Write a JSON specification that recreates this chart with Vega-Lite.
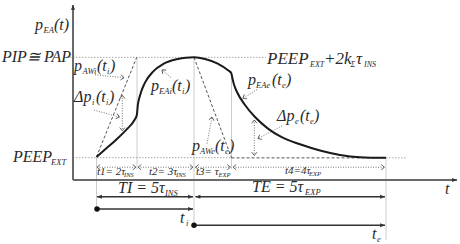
{
  "$schema": "https://vega.github.io/schema/vega-lite/v6.json",
  "width": 460,
  "height": 244,
  "padding": 0,
  "autosize": {"type": "fit", "contains": "padding"},
  "config": {"view": {"stroke": null}},
  "datasets": {
    "curve": [
      {"x": 96.5, "y": 159.5}, {"x": 106.7, "y": 150.5}, {"x": 116.7, "y": 141.5}, {"x": 126.7, "y": 131.5},
      {"x": 134.5, "y": 122}, {"x": 136.8, "y": 117}, {"x": 137.8, "y": 107}, {"x": 140, "y": 97},
      {"x": 145, "y": 84}, {"x": 153.3, "y": 72.5}, {"x": 163.3, "y": 65}, {"x": 176.7, "y": 60.2},
      {"x": 186, "y": 58.6}, {"x": 194, "y": 58.3}, {"x": 205, "y": 60}, {"x": 218.3, "y": 65},
      {"x": 228, "y": 71.3}, {"x": 231.3, "y": 74.5}, {"x": 232.5, "y": 80}, {"x": 234, "y": 86},
      {"x": 237, "y": 93.5}, {"x": 245, "y": 106.7}, {"x": 255, "y": 119}, {"x": 268.3, "y": 131},
      {"x": 281.7, "y": 139.5}, {"x": 300, "y": 146.7}, {"x": 320, "y": 153}, {"x": 340, "y": 157.5},
      {"x": 360, "y": 159.8}, {"x": 386, "y": 160.5}
    ],
    "hguides": [
      {"x": 70, "y": 58.3, "x2": 266, "y2": 58.3},
      {"x": 73, "y": 160.3, "x2": 231, "y2": 160.3},
      {"x": 386, "y": 160.5, "x2": 406, "y2": 160.5}
    ],
    "vguides": [
      {"x": 137, "y": 58, "x2": 137, "y2": 172},
      {"x": 194, "y": 58, "x2": 194, "y2": 229},
      {"x": 231.5, "y": 72, "x2": 231.5, "y2": 172},
      {"x": 96.5, "y": 160, "x2": 96.5, "y2": 212},
      {"x": 386, "y": 160, "x2": 386, "y2": 244}
    ],
    "paw": [
      {"x": 96.5, "y": 159.5, "x2": 136.7, "y2": 58.3},
      {"x": 194, "y": 58.3, "x2": 231.5, "y2": 160.3},
      {"x": 231.5, "y": 160.5, "x2": 386, "y2": 160.5}
    ],
    "thin": [
      {"x": 95, "y": 76, "x2": 124, "y2": 79, "kind": "note"},
      {"x": 94, "y": 112, "x2": 119.5, "y2": 119, "kind": "note"},
      {"x": 171, "y": 79, "x2": 162, "y2": 71, "kind": "note"},
      {"x": 207, "y": 146, "x2": 212, "y2": 119, "kind": "note"},
      {"x": 257, "y": 91, "x2": 243, "y2": 100, "kind": "note"},
      {"x": 282, "y": 128, "x2": 258, "y2": 141, "kind": "note"},
      {"x": 122.3, "y": 97, "x2": 122.3, "y2": 133, "kind": "dim"},
      {"x": 254.3, "y": 122, "x2": 254.3, "y2": 158, "kind": "dim"},
      {"x": 97, "y": 170, "x2": 136, "y2": 170, "kind": "dim"},
      {"x": 138, "y": 170, "x2": 193, "y2": 170, "kind": "dim"},
      {"x": 195.5, "y": 170, "x2": 230.5, "y2": 170, "kind": "dim"},
      {"x": 233, "y": 170, "x2": 384.5, "y2": 170, "kind": "dim"}
    ],
    "bold": [
      {"x": 73, "y": 183, "x2": 73, "y2": 5, "kind": "axis"},
      {"x": 73, "y": 183, "x2": 457, "y2": 183, "kind": "axis"},
      {"x": 97, "y": 200, "x2": 193, "y2": 200, "kind": "both"},
      {"x": 195.5, "y": 200, "x2": 385, "y2": 200, "kind": "both"},
      {"x": 97, "y": 212.5, "x2": 193, "y2": 212.5, "kind": "end"},
      {"x": 194, "y": 229, "x2": 385, "y2": 229, "kind": "end"}
    ],
    "dots": [{"x": 97, "y": 212.5}, {"x": 194, "y": 229}],
    "texts": [
      {"x": 35, "y": 30, "text": "p", "role": "main"},
      {"x": 43.5, "y": 33.5, "text": "EA", "role": "sub"},
      {"x": 54, "y": 30, "text": "(t)", "role": "main"},
      {"x": 2, "y": 63, "text": "PIP≅ PAP", "role": "main"},
      {"x": 74, "y": 72, "text": "p", "role": "main"},
      {"x": 82.5, "y": 75, "text": "AWi", "role": "sub"},
      {"x": 97, "y": 72, "text": "(t", "role": "main"},
      {"x": 107, "y": 75, "text": "i", "role": "sub"},
      {"x": 110, "y": 72, "text": ")", "role": "main"},
      {"x": 74, "y": 104, "text": "Δp", "role": "main"},
      {"x": 92, "y": 107, "text": "i", "role": "sub"},
      {"x": 96, "y": 104, "text": "(t", "role": "main"},
      {"x": 106, "y": 107, "text": "i", "role": "sub"},
      {"x": 109, "y": 104, "text": ")", "role": "main"},
      {"x": 151, "y": 93, "text": "p", "role": "main"},
      {"x": 159, "y": 96, "text": "EAi", "role": "sub"},
      {"x": 172, "y": 93, "text": "(t", "role": "main"},
      {"x": 182, "y": 96, "text": "i", "role": "sub"},
      {"x": 185, "y": 93, "text": ")", "role": "main"},
      {"x": 192, "y": 154, "text": "p", "role": "main"},
      {"x": 200, "y": 157, "text": "AWe", "role": "sub"},
      {"x": 215, "y": 154, "text": "(t", "role": "main"},
      {"x": 225, "y": 157, "text": "e", "role": "sub"},
      {"x": 229, "y": 154, "text": ")", "role": "main"},
      {"x": 248, "y": 86, "text": "p", "role": "main"},
      {"x": 256, "y": 89, "text": "EAe", "role": "sub"},
      {"x": 272, "y": 86, "text": "(t", "role": "main"},
      {"x": 282, "y": 89, "text": "e", "role": "sub"},
      {"x": 286, "y": 86, "text": ")", "role": "main"},
      {"x": 277, "y": 123, "text": "Δp", "role": "main"},
      {"x": 295, "y": 126, "text": "e", "role": "sub"},
      {"x": 300, "y": 123, "text": "(t", "role": "main"},
      {"x": 310, "y": 126, "text": "e", "role": "sub"},
      {"x": 314, "y": 123, "text": ")", "role": "main"},
      {"x": 267, "y": 65, "text": "PEEP", "role": "big"},
      {"x": 310, "y": 68, "text": "EXT", "role": "bigsub"},
      {"x": 324, "y": 65, "text": "+2k", "role": "big"},
      {"x": 350.5, "y": 68, "text": "Σ", "role": "bigsub"},
      {"x": 356, "y": 65, "text": "τ", "role": "big"},
      {"x": 364, "y": 68, "text": "INS", "role": "bigsub"},
      {"x": 13, "y": 165, "text": "PEEP", "role": "main"},
      {"x": 51, "y": 168, "text": "EXT", "role": "sub"},
      {"x": 118, "y": 196, "text": "TI = 5τ", "role": "main"},
      {"x": 165, "y": 199, "text": "INS", "role": "sub"},
      {"x": 252, "y": 195, "text": "TE = 5τ", "role": "main"},
      {"x": 305, "y": 198, "text": "EXP", "role": "sub"},
      {"x": 97, "y": 178, "text": "t1= 2τ", "role": "small"},
      {"x": 124, "y": 180, "text": "INS", "role": "smallsub"},
      {"x": 149, "y": 178, "text": "t2= 3τ", "role": "small"},
      {"x": 176, "y": 180, "text": "INS", "role": "smallsub"},
      {"x": 196, "y": 178, "text": "t3= τ", "role": "small"},
      {"x": 218.5, "y": 180, "text": "EXP", "role": "smallsub"},
      {"x": 285, "y": 177, "text": "t4=4τ", "role": "small"},
      {"x": 309, "y": 179, "text": "EXP", "role": "smallsub"},
      {"x": 445, "y": 197, "text": "t", "role": "main"},
      {"x": 180, "y": 227, "text": "t", "role": "main"},
      {"x": 186, "y": 230, "text": "i", "role": "sub"},
      {"x": 372, "y": 243, "text": "t", "role": "main"},
      {"x": 377, "y": 246, "text": "e", "role": "sub"}
    ]
  },
  "layer": [
    {
      "data": {"name": "vguides"},
      "mark": {"type": "rule", "color": "#cccccc", "strokeWidth": 1},
      "encoding": {
        "x": {"field": "x", "type": "quantitative", "scale": {"domain": [0, 460], "nice": false, "zero": false}, "axis": null},
        "y": {"field": "y", "type": "quantitative", "scale": {"domain": [0, 244], "nice": false, "zero": false, "reverse": true}, "axis": null},
        "x2": {"field": "x2"}, "y2": {"field": "y2"}
      }
    },
    {
      "data": {"name": "hguides"},
      "mark": {"type": "rule", "color": "#a8a8a8", "strokeWidth": 1, "strokeDash": [1.5, 1.5]},
      "encoding": {
        "x": {"field": "x", "type": "quantitative", "scale": {"domain": [0, 460], "nice": false, "zero": false}, "axis": null},
        "y": {"field": "y", "type": "quantitative", "scale": {"domain": [0, 244], "nice": false, "zero": false, "reverse": true}, "axis": null},
        "x2": {"field": "x2"}, "y2": {"field": "y2"}
      }
    },
    {
      "data": {"name": "paw"},
      "mark": {"type": "rule", "color": "#555555", "strokeWidth": 1, "strokeDash": [3, 2]},
      "encoding": {
        "x": {"field": "x", "type": "quantitative", "scale": {"domain": [0, 460], "nice": false, "zero": false}, "axis": null},
        "y": {"field": "y", "type": "quantitative", "scale": {"domain": [0, 244], "nice": false, "zero": false, "reverse": true}, "axis": null},
        "x2": {"field": "x2"}, "y2": {"field": "y2"}
      }
    },
    {
      "data": {"name": "curve"},
      "mark": {"type": "line", "interpolate": "monotone", "color": "#1a1a1a", "strokeWidth": 2},
      "encoding": {
        "x": {"field": "x", "type": "quantitative", "scale": {"domain": [0, 460], "nice": false, "zero": false}, "axis": null},
        "y": {"field": "y", "type": "quantitative", "scale": {"domain": [0, 244], "nice": false, "zero": false, "reverse": true}, "axis": null}
      }
    },
    {
      "data": {"name": "thin"},
      "mark": {"type": "rule", "color": "#666666", "strokeWidth": 0.9, "strokeDash": [1, 1.5]},
      "encoding": {
        "x": {"field": "x", "type": "quantitative", "scale": {"domain": [0, 460], "nice": false, "zero": false}, "axis": null},
        "y": {"field": "y", "type": "quantitative", "scale": {"domain": [0, 244], "nice": false, "zero": false, "reverse": true}, "axis": null},
        "x2": {"field": "x2"}, "y2": {"field": "y2"}
      }
    },
    {
      "data": {"name": "thin"},
      "transform": [{"calculate": "atan2(datum.y2 - datum.y, datum.x2 - datum.x) * 180 / PI", "as": "ang"}],
      "mark": {"type": "point", "shape": "M-1,-0.8L0,0L-1,0.8", "filled": false, "size": 42, "stroke": "#555555", "strokeWidth": 0.9, "opacity": 1},
      "encoding": {
        "x": {"field": "x2", "type": "quantitative", "scale": {"domain": [0, 460], "nice": false, "zero": false}, "axis": null},
        "y": {"field": "y2", "type": "quantitative", "scale": {"domain": [0, 244], "nice": false, "zero": false, "reverse": true}, "axis": null},
        "angle": {"field": "ang", "type": "quantitative", "scale": null}
      }
    },
    {
      "data": {"name": "thin"},
      "transform": [
        {"filter": "datum.kind === 'dim'"},
        {"calculate": "atan2(datum.y - datum.y2, datum.x - datum.x2) * 180 / PI", "as": "ang"}
      ],
      "mark": {"type": "point", "shape": "M-1,-0.8L0,0L-1,0.8", "filled": false, "size": 42, "stroke": "#555555", "strokeWidth": 0.9, "opacity": 1},
      "encoding": {
        "x": {"field": "x", "type": "quantitative", "scale": {"domain": [0, 460], "nice": false, "zero": false}, "axis": null},
        "y": {"field": "y", "type": "quantitative", "scale": {"domain": [0, 244], "nice": false, "zero": false, "reverse": true}, "axis": null},
        "angle": {"field": "ang", "type": "quantitative", "scale": null}
      }
    },
    {
      "data": {"name": "bold"},
      "transform": [{"filter": "datum.kind === 'axis'"}],
      "mark": {"type": "rule", "color": "#6a6a6a", "strokeWidth": 2},
      "encoding": {
        "x": {"field": "x", "type": "quantitative", "scale": {"domain": [0, 460], "nice": false, "zero": false}, "axis": null},
        "y": {"field": "y", "type": "quantitative", "scale": {"domain": [0, 244], "nice": false, "zero": false, "reverse": true}, "axis": null},
        "x2": {"field": "x2"}, "y2": {"field": "y2"}
      }
    },
    {
      "data": {"name": "bold"},
      "transform": [{"filter": "datum.kind !== 'axis'"}],
      "mark": {"type": "rule", "color": "#333333", "strokeWidth": 1.5},
      "encoding": {
        "x": {"field": "x", "type": "quantitative", "scale": {"domain": [0, 460], "nice": false, "zero": false}, "axis": null},
        "y": {"field": "y", "type": "quantitative", "scale": {"domain": [0, 244], "nice": false, "zero": false, "reverse": true}, "axis": null},
        "x2": {"field": "x2"}, "y2": {"field": "y2"}
      }
    },
    {
      "data": {"name": "bold"},
      "transform": [{"calculate": "atan2(datum.y2 - datum.y, datum.x2 - datum.x) * 180 / PI", "as": "ang"}],
      "mark": {"type": "point", "shape": "M0,0L-1.3,-0.55L-1.3,0.55Z", "filled": true, "size": 56, "color": "#333333", "opacity": 1},
      "encoding": {
        "x": {"field": "x2", "type": "quantitative", "scale": {"domain": [0, 460], "nice": false, "zero": false}, "axis": null},
        "y": {"field": "y2", "type": "quantitative", "scale": {"domain": [0, 244], "nice": false, "zero": false, "reverse": true}, "axis": null},
        "angle": {"field": "ang", "type": "quantitative", "scale": null}
      }
    },
    {
      "data": {"name": "bold"},
      "transform": [
        {"filter": "datum.kind === 'both'"},
        {"calculate": "atan2(datum.y - datum.y2, datum.x - datum.x2) * 180 / PI", "as": "ang"}
      ],
      "mark": {"type": "point", "shape": "M0,0L-1.3,-0.55L-1.3,0.55Z", "filled": true, "size": 56, "color": "#333333", "opacity": 1},
      "encoding": {
        "x": {"field": "x", "type": "quantitative", "scale": {"domain": [0, 460], "nice": false, "zero": false}, "axis": null},
        "y": {"field": "y", "type": "quantitative", "scale": {"domain": [0, 244], "nice": false, "zero": false, "reverse": true}, "axis": null},
        "angle": {"field": "ang", "type": "quantitative", "scale": null}
      }
    },
    {
      "data": {"name": "dots"},
      "mark": {"type": "point", "shape": "circle", "filled": true, "size": 30, "color": "#111111", "opacity": 1},
      "encoding": {
        "x": {"field": "x", "type": "quantitative", "scale": {"domain": [0, 460], "nice": false, "zero": false}, "axis": null},
        "y": {"field": "y", "type": "quantitative", "scale": {"domain": [0, 244], "nice": false, "zero": false, "reverse": true}, "axis": null}
      }
    },
    {
      "data": {"name": "texts"},
      "transform": [{"filter": "datum.role === 'main'"}],
      "mark": {"type": "text", "align": "left", "baseline": "alphabetic", "font": "Liberation Serif, DejaVu Serif, serif", "fontStyle": "italic", "fontSize": 16, "color": "#2a2a2a"},
      "encoding": {
        "x": {"field": "x", "type": "quantitative", "scale": {"domain": [0, 460], "nice": false, "zero": false}, "axis": null},
        "y": {"field": "y", "type": "quantitative", "scale": {"domain": [0, 244], "nice": false, "zero": false, "reverse": true}, "axis": null},
        "text": {"field": "text"}
      }
    },
    {
      "data": {"name": "texts"},
      "transform": [{"filter": "datum.role === 'sub'"}],
      "mark": {"type": "text", "align": "left", "baseline": "alphabetic", "font": "Liberation Serif, DejaVu Serif, serif", "fontStyle": "italic", "fontSize": 8.5, "color": "#2a2a2a"},
      "encoding": {
        "x": {"field": "x", "type": "quantitative", "scale": {"domain": [0, 460], "nice": false, "zero": false}, "axis": null},
        "y": {"field": "y", "type": "quantitative", "scale": {"domain": [0, 244], "nice": false, "zero": false, "reverse": true}, "axis": null},
        "text": {"field": "text"}
      }
    },
    {
      "data": {"name": "texts"},
      "transform": [{"filter": "datum.role === 'big'"}],
      "mark": {"type": "text", "align": "left", "baseline": "alphabetic", "font": "Liberation Serif, DejaVu Serif, serif", "fontStyle": "italic", "fontSize": 17, "color": "#2a2a2a"},
      "encoding": {
        "x": {"field": "x", "type": "quantitative", "scale": {"domain": [0, 460], "nice": false, "zero": false}, "axis": null},
        "y": {"field": "y", "type": "quantitative", "scale": {"domain": [0, 244], "nice": false, "zero": false, "reverse": true}, "axis": null},
        "text": {"field": "text"}
      }
    },
    {
      "data": {"name": "texts"},
      "transform": [{"filter": "datum.role === 'bigsub'"}],
      "mark": {"type": "text", "align": "left", "baseline": "alphabetic", "font": "Liberation Serif, DejaVu Serif, serif", "fontStyle": "italic", "fontSize": 8, "color": "#2a2a2a"},
      "encoding": {
        "x": {"field": "x", "type": "quantitative", "scale": {"domain": [0, 460], "nice": false, "zero": false}, "axis": null},
        "y": {"field": "y", "type": "quantitative", "scale": {"domain": [0, 244], "nice": false, "zero": false, "reverse": true}, "axis": null},
        "text": {"field": "text"}
      }
    },
    {
      "data": {"name": "texts"},
      "transform": [{"filter": "datum.role === 'small'"}],
      "mark": {"type": "text", "align": "left", "baseline": "alphabetic", "font": "Liberation Serif, DejaVu Serif, serif", "fontStyle": "italic", "fontSize": 11, "color": "#2a2a2a"},
      "encoding": {
        "x": {"field": "x", "type": "quantitative", "scale": {"domain": [0, 460], "nice": false, "zero": false}, "axis": null},
        "y": {"field": "y", "type": "quantitative", "scale": {"domain": [0, 244], "nice": false, "zero": false, "reverse": true}, "axis": null},
        "text": {"field": "text"}
      }
    },
    {
      "data": {"name": "texts"},
      "transform": [{"filter": "datum.role === 'smallsub'"}],
      "mark": {"type": "text", "align": "left", "baseline": "alphabetic", "font": "Liberation Serif, DejaVu Serif, serif", "fontStyle": "italic", "fontSize": 6.5, "color": "#2a2a2a"},
      "encoding": {
        "x": {"field": "x", "type": "quantitative", "scale": {"domain": [0, 460], "nice": false, "zero": false}, "axis": null},
        "y": {"field": "y", "type": "quantitative", "scale": {"domain": [0, 244], "nice": false, "zero": false, "reverse": true}, "axis": null},
        "text": {"field": "text"}
      }
    }
  ]
}
